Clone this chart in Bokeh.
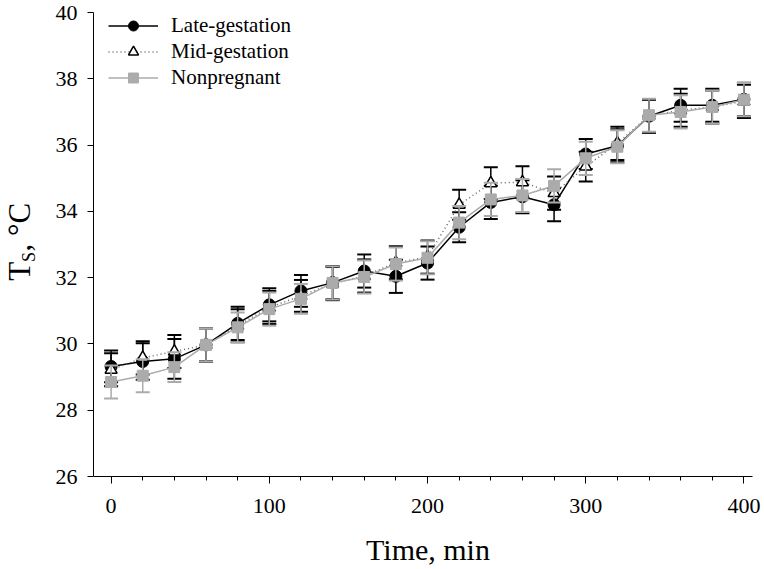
from bokeh.plotting import figure
from bokeh.models import ColumnDataSource, Legend, LegendItem, Label, Range1d, SingleIntervalTicker
from bokeh.embed import file_html
from bokeh.resources import INLINE
import math

time = [0, 20, 40, 60, 80, 100, 120, 140, 160, 180, 200, 220, 240, 260, 280, 300, 320, 340, 360, 380, 400]
late = [29.32, 29.47, 29.55, 29.97, 30.62, 31.18, 31.60, 31.85, 32.20, 32.04, 32.44, 33.52, 34.27, 34.44, 34.20, 35.73, 35.98, 36.87, 37.20, 37.20, 37.38]
mid = [29.22, 29.58, 29.77, 29.97, 30.55, 31.10, 31.45, 31.82, 32.05, 32.45, 32.62, 34.20, 34.85, 34.88, 34.55, 35.35, 36.05, 36.88, 37.05, 37.15, 37.32]
non = [28.85, 29.04, 29.30, 29.97, 30.50, 31.05, 31.36, 31.84, 32.02, 32.41, 32.60, 33.66, 34.36, 34.48, 34.77, 35.60, 35.95, 36.90, 37.00, 37.15, 37.37]
late_se = [0.48, 0.55, 0.60, 0.50, 0.50, 0.50, 0.48, 0.50, 0.50, 0.50, 0.50, 0.45, 0.50, 0.50, 0.50, 0.45, 0.50, 0.50, 0.50, 0.50, 0.50]
mid_se = [0.50, 0.50, 0.50, 0.50, 0.50, 0.50, 0.48, 0.50, 0.50, 0.50, 0.50, 0.45, 0.48, 0.48, 0.50, 0.45, 0.50, 0.50, 0.50, 0.50, 0.50]
non_se = [0.50, 0.50, 0.45, 0.50, 0.45, 0.50, 0.45, 0.50, 0.50, 0.50, 0.50, 0.50, 0.50, 0.50, 0.50, 0.50, 0.50, 0.50, 0.50, 0.50, 0.50]
series_names = ["Late-gestation", "Mid-gestation", "Nonpregnant"]
x_title = "Time, min"
y_ticks_interval = 2
x_ticks_interval = 100

FONT = "Liberation Serif"
GRAY = "#ababab"
X_MIN, X_MAX = -11.1, 405.5     # extent of the x axis line
Y_MIN, Y_MAX = 26, 40           # extent of the y axis line

# the frame covers the whole canvas; both axes are drawn at fixed locations inside it
p = figure(width=764, height=569, output_backend="svg", toolbar_location=None,
           x_range=Range1d(-69.9, 413.0), y_range=Range1d(23.194, 40.362),
           min_border_left=0, min_border_right=0, min_border_top=0, min_border_bottom=0)
p.outline_line_color = None
p.grid.visible = False
p.background_fill_color = "white"

def src(vals, se):
    return ColumnDataSource(dict(x=time, y=vals,
                                 lo=[v - s for v, s in zip(vals, se)],
                                 hi=[v + s for v, s in zip(vals, se)]))

s_late = src(late, late_se)
s_mid = src(mid, mid_se)
s_non = src(non, non_se)

def errbars(s, color):
    p.segment(x0="x", y0="lo", x1="x", y1="hi", source=s, line_color=color, line_width=1.5)
    p.scatter(x="x", y="lo", marker="dash", size=14, source=s, line_color=color, line_width=2)
    p.scatter(x="x", y="hi", marker="dash", size=14, source=s, line_color=color, line_width=2)

# Late-gestation
errbars(s_late, "black")
l_late = p.line("x", "y", source=s_late, line_color="black", line_width=1.5)
m_late = p.scatter("x", "y", source=s_late, marker="circle", size=12, fill_color="black", line_color="black")

# Mid-gestation
errbars(s_mid, "black")
l_mid = p.line("x", "y", source=s_mid, line_color="#666666", line_width=1.5, line_dash="1 3")
m_mid = p.scatter("x", "y", source=s_mid, marker="triangle", size=12, fill_color="white", line_color="black", line_width=1.5)

# Nonpregnant
errbars(s_non, GRAY)
l_non = p.line("x", "y", source=s_non, line_color=GRAY, line_width=1.5)
m_non = p.scatter("x", "y", source=s_non, marker="square", size=11, fill_color=GRAY, line_color=GRAY)

legend = Legend(items=[
    LegendItem(label=series_names[0], renderers=[l_late, m_late]),
    LegendItem(label=series_names[1], renderers=[l_mid, m_mid]),
    LegendItem(label=series_names[2], renderers=[l_non, m_non]),
], location=(108, 479), margin=0, padding=0, spacing=1,
   glyph_width=50, glyph_height=25, label_height=25, label_standoff=13,
   label_text_font=FONT, label_text_font_size="21px", label_text_color="black",
   border_line_color=None, background_fill_alpha=0)
p.add_layout(legend, "center")

# axes
p.xaxis.ticker = SingleIntervalTicker(interval=x_ticks_interval, num_minor_ticks=5)
p.yaxis.ticker = SingleIntervalTicker(interval=y_ticks_interval, num_minor_ticks=0)
p.xaxis.bounds = (X_MIN, X_MAX)
p.yaxis.bounds = (Y_MIN, Y_MAX)
p.xaxis.fixed_location = Y_MIN
p.yaxis.fixed_location = X_MIN
for ax in (p.xaxis[0], p.yaxis[0]):
    ax.axis_line_color = "black"
    ax.major_tick_line_color = "black"
    ax.minor_tick_line_color = "black"
    ax.major_tick_in = 0
    ax.minor_tick_in = 0
    ax.major_label_text_font = FONT
    ax.major_label_text_font_size = "22px"
    ax.major_label_text_color = "black"
p.xaxis.major_tick_out = 7
p.xaxis.minor_tick_out = 4
p.yaxis.major_tick_out = 6
p.yaxis.minor_tick_out = 0
p.xaxis.major_label_standoff = 15
p.yaxis.major_label_standoff = 10

# x-axis title (centred below the axis line)
p.add_layout(Label(x=200.3, y=23.80, text=x_title, text_font=FONT, text_font_size="30px",
                   text_color="black", text_align="center", text_baseline="middle"))

# y-axis title with subscript (x in screen pixels from the frame's left edge, y in data units)
common = dict(x_units="screen", y_units="data", angle=math.pi / 2,
              text_font=FONT, text_color="black", text_align="left", text_baseline="alphabetic")
p.add_layout(Label(x=19, y=31.91, text="T", text_font_size="31px", **common))
p.add_layout(Label(x=28, y=32.47, text="S", text_font_size="18px", **common))
p.add_layout(Label(x=19, y=32.79, text=", \u00b0C", text_font_size="31px", **common))

open("out.html", "w").write(file_html(p, INLINE))
